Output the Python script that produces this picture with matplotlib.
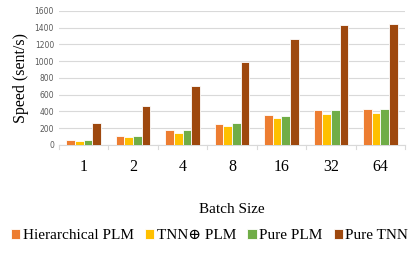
import numpy as np
import matplotlib.pyplot as plt
from matplotlib.ticker import MultipleLocator

plt.rcParams['font.family'] = ['Liberation Serif', 'DejaVu Serif']

# Datos
batch_sizes = ['1', '2', '4', '8', '16', '32', '64']
hierarchical_plm = [60, 107, 180, 255, 357, 417, 429]
tnn_plm = [50, 90, 147, 226, 322, 373, 381]
pure_plm = [60, 107, 182, 262, 346, 417, 425]
pure_tnn = [265, 458, 697, 993, 1263, 1427, 1442]

series = [hierarchical_plm, tnn_plm, pure_plm, pure_tnn]
labels = ['Hierarchical PLM', 'TNN\u2295 PLM', 'Pure PLM', 'Pure TNN']
colors = ['#ED7D31', '#FFC000', '#70AD47', '#9E480E']

fig = plt.figure(figsize=(4.15, 2.56), dpi=100)
ax = fig.add_axes([0.142, 0.434, 0.834, 0.524])

x = np.arange(len(batch_sizes))
w = 0.175
for i, (vals, lab, col) in enumerate(zip(series, labels, colors)):
    ax.bar(x + (i - 1.5) * w, vals, w, color=col, edgecolor='white', linewidth=0.6,
           label=lab, zorder=3)

ax.set_xlim(-0.5, len(batch_sizes) - 0.5)
ax.set_ylim(0, 1600)
ax.yaxis.set_major_locator(MultipleLocator(200))
ax.grid(axis='y', color='#D9D9D9', linewidth=0.8, zorder=0)

for s in ['top', 'right', 'left']:
    ax.spines[s].set_visible(False)
ax.spines['bottom'].set_color('#D9D9D9')

ax.set_xticks(x)
ax.set_xticklabels(batch_sizes, fontsize=11.5)
ax.tick_params(axis='x', length=0, pad=10)
# separadores entre grupos
for b in np.arange(-0.5, len(batch_sizes), 1.0):
    ax.plot([b, b], [0, -0.03], transform=ax.get_xaxis_transform(), color='#D9D9D9',
            linewidth=0.8, clip_on=False)
ax.tick_params(axis='y', length=0, labelsize=5.5, labelcolor='#595959')
for t in ax.get_yticklabels():
    t.set_family('DejaVu Sans')

ax.set_ylabel('Speed (sent/s)', fontsize=11.5)
ax.set_xlabel('Batch Size', fontsize=11, labelpad=20)

ax.legend(loc='center', bbox_to_anchor=(0.505, 0.08), bbox_transform=fig.transFigure,
          ncol=4, frameon=False, fontsize=11, handlelength=0.6, handleheight=0.6,
          handletextpad=0.15, columnspacing=0.75, borderaxespad=0, borderpad=0)

fig.savefig('out.png', dpi=100)
